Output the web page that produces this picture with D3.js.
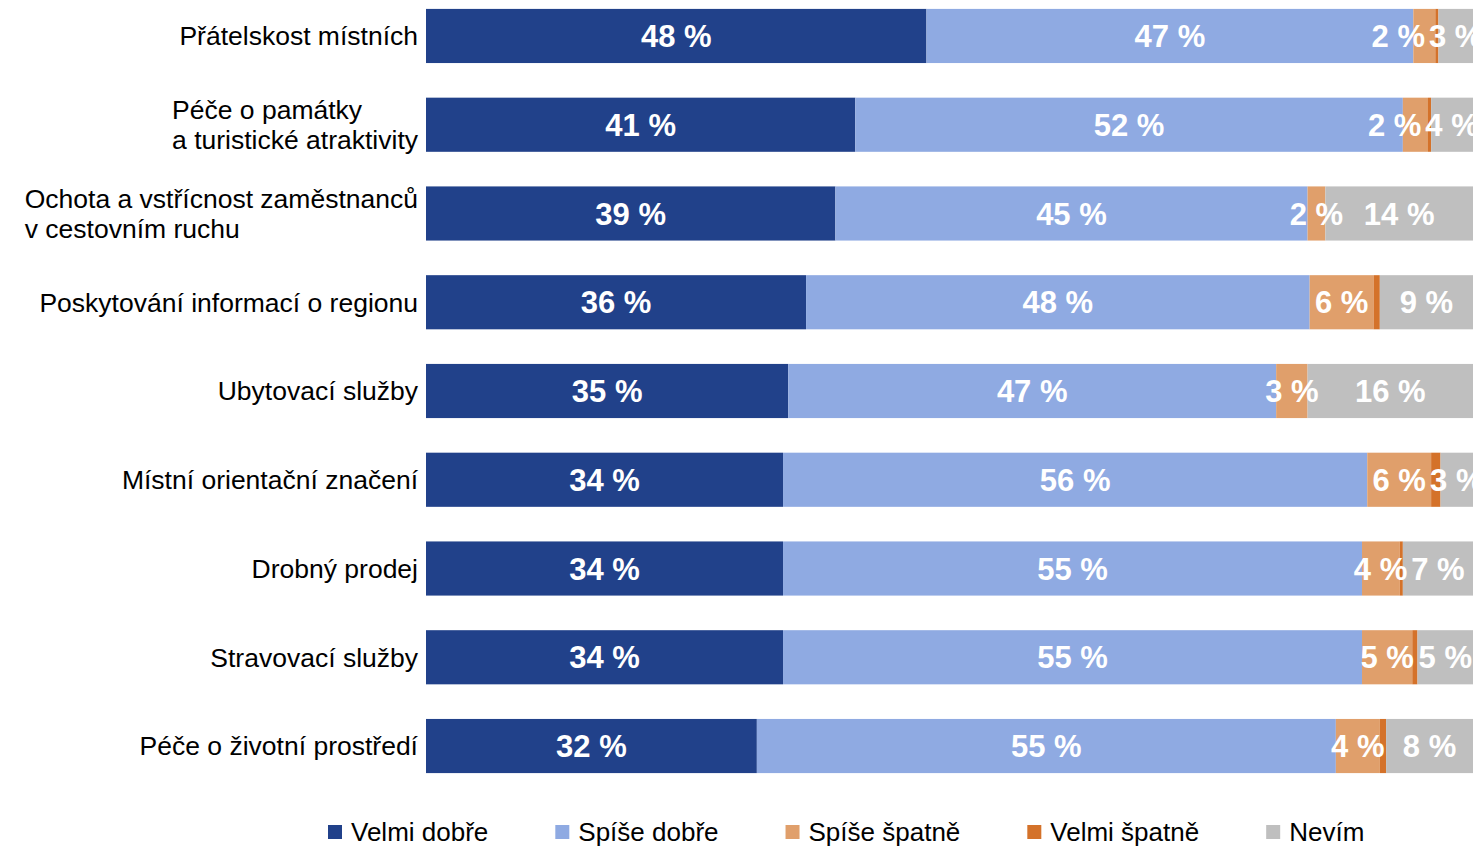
<!DOCTYPE html>
<html>
<head>
<meta charset="utf-8">
<script src="https://cdn.jsdelivr.net/npm/d3@7"></script>
<style>
    body { margin: 0; background: #fff; }
    svg { display: block; font-family: "Liberation Sans", Arial, sans-serif; }
</style>
</head>
<body>
<script>
// data
const categories = [
    'Přátelskost místních',
    'Péče o památky\na turistické atraktivity',
    'Ochota a vstřícnost zaměstnanců\nv cestovním ruchu',
    'Poskytování informací o regionu',
    'Ubytovací služby',
    'Místní orientační značení',
    'Drobný prodej',
    'Stravovací služby',
    'Péče o životní prostředí'
];
const seriesNames = ['Velmi dobře', 'Spíše dobře', 'Spíše špatně', 'Velmi špatně', 'Nevím'];
const velmiDobre = [47.8, 41.0, 39.1, 36.3, 34.6, 34.1, 34.1, 34.1, 31.6];
const spiseDobre = [46.5, 52.3, 45.1, 48.1, 46.6, 55.8, 55.3, 55.3, 55.3];
const spiseSpatne = [2.1, 2.4, 1.7, 6.1, 3.0, 6.1, 3.6, 4.8, 4.2];
const velmiSpatne = [0.3, 0.3, 0, 0.6, 0, 0.9, 0.3, 0.5, 0.6];
const nevim = [3.3, 4.0, 14.1, 8.9, 15.8, 3.1, 6.7, 5.3, 8.3];

const colors = ['#21418a', '#8faae2', '#e09f6b', '#d4722a', '#bfbfbf'];
const unlabeled = ['Velmi špatně'];

const width = 1474, height = 846;

const rows = categories.map((c, i) => ({
    cat: c,
    'Velmi dobře': velmiDobre[i],
    'Spíše dobře': spiseDobre[i],
    'Spíše špatně': spiseSpatne[i],
    'Velmi špatně': velmiSpatne[i],
    'Nevím': nevim[i]
}));

const x = d3.scaleLinear().domain([0, 100]).range([426, 1473]);
const y = d3.scaleBand().domain(categories).range([-8.4, 790.4])
    .paddingInner(0.39).paddingOuter(0.195);
const color = d3.scaleOrdinal().domain(seriesNames).range(colors);

const stacked = d3.stack().keys(seriesNames)(rows);

const svg = d3.select('body').append('svg')
    .attr('width', width).attr('height', height);

// bars
const layers = svg.append('g').attr('class', 'bars')
    .selectAll('g').data(stacked).enter().append('g')
    .attr('fill', d => color(d.key));

layers.selectAll('rect')
    .data(d => d)
    .enter().append('rect')
    .attr('x', d => x(d[0]))
    .attr('y', d => y(d.data.cat))
    .attr('width', d => x(d[1]) - x(d[0]))
    .attr('height', y.bandwidth());

// value labels (the right-most ones run past the edge, as in the source chart)
const labels = svg.append('g').attr('class', 'values');
categories.forEach((cat, i) => {
    const row = [];
    stacked.forEach(s => {
        const d = s[i];
        if (unlabeled.includes(s.key) || d[1] - d[0] <= 0) return;
        const t = labels.append('text')
            .attr('x', x((d[0] + d[1]) / 2))
            .attr('y', y(cat) + y.bandwidth() / 2)
            .attr('dy', '0.36em')
            .attr('text-anchor', 'middle')
            .attr('fill', '#fff')
            .attr('font-weight', 'bold')
            .attr('font-size', 31)
            .text(Math.round(d[1] - d[0]) + ' %');
        row.push({ t, cx: x((d[0] + d[1]) / 2), w: t.node().getComputedTextLength() });
    });
    // push a label left when it runs into the next one
    for (let k = row.length - 2; k >= 0; k--) {
        const a = row[k], b = row[k + 1];
        const limit = b.cx - b.w / 2 - 4;
        if (a.cx + a.w / 2 > limit) {
            a.cx = limit - a.w / 2;
            a.t.attr('x', a.cx);
        }
    }
});

// category labels
const cats = svg.append('g').attr('class', 'cats');
categories.forEach(cat => {
    const lines = cat.split('\n');
    const cy = y(cat) + y.bandwidth() / 2;
    const t = cats.append('text')
        .attr('font-size', 26.5)
        .attr('fill', '#000');
    lines.forEach((ln, j) => {
        t.append('tspan')
            .attr('y', cy + (j - (lines.length - 1) / 2) * 30)
            .attr('dy', '0.35em')
            .text(ln);
    });
    const w = d3.max(t.selectAll('tspan').nodes(), n => n.getComputedTextLength());
    t.selectAll('tspan').attr('x', 418 - w);
});

// legend
const legend = svg.append('g').attr('class', 'legend');
let lx = 328;
seriesNames.forEach(name => {
    legend.append('rect')
        .attr('x', lx).attr('y', 825)
        .attr('width', 14).attr('height', 14)
        .attr('fill', color(name));
    const t = legend.append('text')
        .attr('x', lx + 23).attr('y', 832)
        .attr('dy', '0.35em')
        .attr('font-size', 26)
        .attr('fill', '#000')
        .text(name);
    lx += 23 + t.node().getComputedTextLength() + 67;
});
</script>
</body>
</html>
